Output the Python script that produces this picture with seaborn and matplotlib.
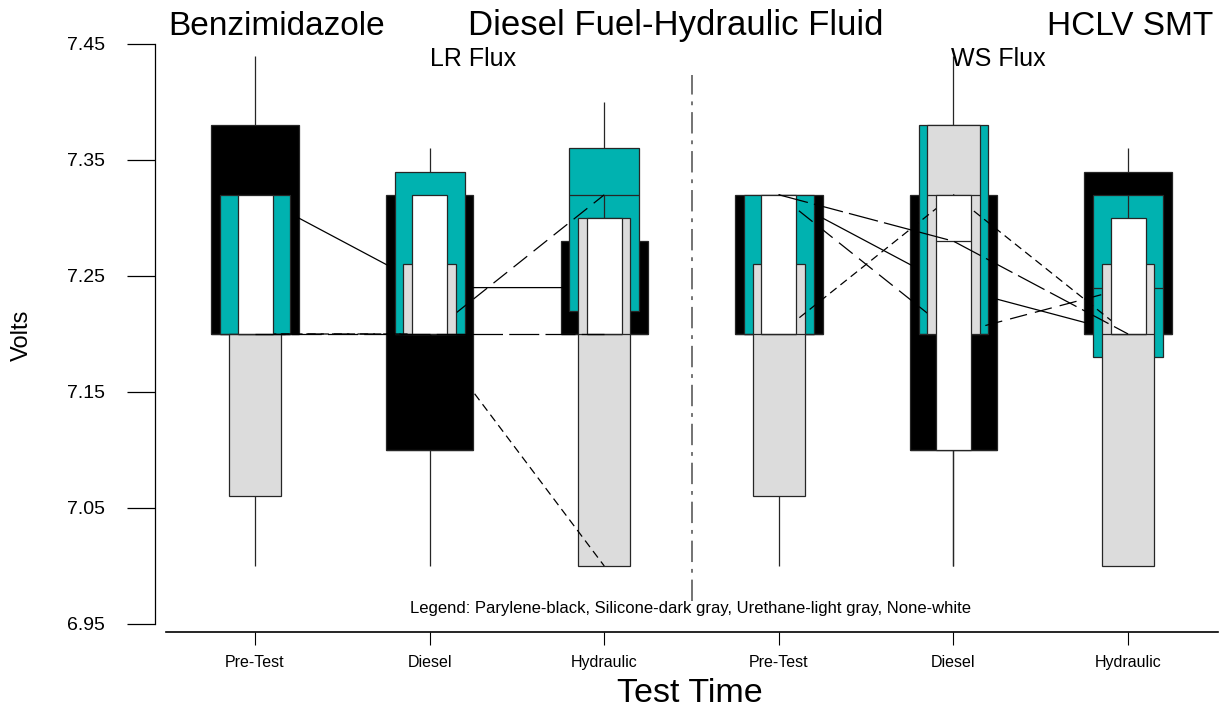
import numpy as np
import pandas as pd
import seaborn as sns
import matplotlib.pyplot as plt

# x positions: two flux groups, three test times each
positions = ["LR Pre-Test", "LR Diesel", "LR Hydraulic", "WS Pre-Test", "WS Diesel", "WS Hydraulic"]
test_times = ["Pre-Test", "Diesel", "Hydraulic", "Pre-Test", "Diesel", "Hydraulic"]
flux = ["LR", "LR", "LR", "WS", "WS", "WS"]

# five number summaries (min, q1, median, q3, max) per position
parylene = [
    [7.20, 7.20, 7.20, 7.38, 7.44],
    [7.00, 7.10, 7.10, 7.32, 7.32],
    [7.20, 7.20, 7.20, 7.28, 7.28],
    [7.20, 7.20, 7.20, 7.32, 7.32],
    [7.00, 7.10, 7.10, 7.32, 7.32],
    [7.20, 7.20, 7.20, 7.34, 7.36],
]
silicone = [
    [7.20, 7.20, 7.20, 7.32, 7.32],
    [7.20, 7.20, 7.20, 7.34, 7.36],
    [7.22, 7.22, 7.32, 7.36, 7.40],
    [7.20, 7.20, 7.20, 7.32, 7.32],
    [7.20, 7.20, 7.20, 7.38, 7.44],
    [7.18, 7.18, 7.24, 7.32, 7.32],
]
urethane = [
    [7.00, 7.06, 7.20, 7.20, 7.20],
    [7.20, 7.20, 7.20, 7.26, 7.26],
    [7.00, 7.00, 7.20, 7.30, 7.30],
    [7.00, 7.06, 7.20, 7.26, 7.26],
    [7.20, 7.20, 7.32, 7.38, 7.38],
    [7.00, 7.00, 7.20, 7.26, 7.26],
]
no_coat = [
    [7.20, 7.20, 7.20, 7.32, 7.32],
    [7.20, 7.20, 7.20, 7.32, 7.32],
    [7.20, 7.20, 7.20, 7.30, 7.32],
    [7.20, 7.20, 7.20, 7.32, 7.32],
    [7.00, 7.10, 7.28, 7.32, 7.32],
    [7.20, 7.20, 7.20, 7.30, 7.32],
]

# connecting lines across test time, one per coating
parylene_line = [7.32, 7.24, 7.24, 7.32, 7.24, 7.20]
silicone_line = [7.20, 7.20, 7.32, 7.32, 7.20, 7.24]
urethane_line = [7.20, 7.20, 7.00, 7.20, 7.32, 7.20]
no_coat_line = [7.20, 7.20, 7.20, 7.32, 7.28, 7.20]

coatings = ["Parylene", "Silicone", "Urethane", "None"]
summaries = {"Parylene": parylene, "Silicone": silicone, "Urethane": urethane, "None": no_coat}
lines = {"Parylene": parylene_line, "Silicone": silicone_line, "Urethane": urethane_line, "None": no_coat_line}

# styles
box_colors = {"Parylene": "#000000", "Silicone": "#00b2b0", "Urethane": "#dcdcdc", "None": "#ffffff"}
box_widths = {"Parylene": 0.5, "Silicone": 0.4, "Urethane": 0.3, "None": 0.2}
line_styles = {"Parylene": "-", "Silicone": (0, (14, 6.5)), "Urethane": (0, (6.5, 4)), "None": (0, (24, 5))}

sns.set_style("ticks")
plt.rcParams["font.family"] = ["Liberation Sans", "DejaVu Sans"]
plt.rcParams["text.color"] = "black"

fig = plt.figure(figsize=(12.24, 7.14), dpi=100)
ax = fig.add_axes([166 / 1224, 1 - 624 / 714, 1052 / 1224, 580 / 714])

for i, name in enumerate(coatings):
    df = pd.DataFrame({"pos": np.repeat(positions, 5), "volts": np.ravel(summaries[name])})
    n_p, n_l = len(ax.patches), len(ax.lines)
    sns.boxplot(data=df, x="pos", y="volts", order=positions, width=box_widths[name],
                color=box_colors[name], saturation=1, linecolor="#262626", linewidth=0.9,
                whis=(0, 100), showcaps=False, showfliers=False, ax=ax)
    for a in list(ax.patches)[n_p:] + list(ax.lines)[n_l:]:
        a.set_zorder(2 + 2 * i)

    ld = pd.DataFrame({"x": range(len(positions)), "v": lines[name], "grp": flux})
    n_l = len(ax.lines)
    sns.lineplot(data=ld, x="x", y="v", units="grp", estimator=None, color="black",
                 lw=0.9, ax=ax)
    for ln in list(ax.lines)[n_l:]:
        ln.set_linestyle(line_styles[name])
        ln.set_zorder(3 + 2 * i)

# separator between the two flux groups
ax.plot([2.5, 2.5], [6.97, 7.423], color="#4d4d4d", lw=1.1,
        linestyle=(0, (14, 4.5, 2.5, 4.5)), zorder=1)

ax.set_xlim(-0.51, 5.515)
ax.set_ylim(6.95, 7.45)
ax.set_xticks(range(len(positions)))
ax.set_xticklabels(test_times)
yt = [6.95, 7.05, 7.15, 7.25, 7.35, 7.45]
ax.set_yticks(yt)
ax.set_yticklabels([f"{v:.2f}" for v in yt])
ax.set_xlabel("")
ax.set_ylabel("")
ax.grid(False)

sns.despine(ax=ax)
ax.spines["left"].set_position(("outward", 8))
ax.spines["left"].set_bounds(6.95, 7.45)
ax.spines["left"].set_linewidth(0.9)
ax.spines["left"].set_color("black")
ax.spines["bottom"].set_position(("outward", 5.8))
ax.spines["bottom"].set_linewidth(1.2)
ax.spines["bottom"].set_color("black")
ax.tick_params(axis="y", length=20, width=0.9, pad=16, labelsize=14, colors="black")
ax.tick_params(axis="x", length=9.4, width=0.8, pad=7, labelsize=11.5, colors="black")

fig.text(168 / 1224, 1 - 35 / 714, "Benzimidazole", fontsize=24, ha="left", va="baseline")
fig.text(676 / 1224, 1 - 35 / 714, "Diesel Fuel-Hydraulic Fluid", fontsize=25, ha="center", va="baseline")
fig.text(1213 / 1224, 1 - 35 / 714, "HCLV SMT", fontsize=24, ha="right", va="baseline")
fig.text(473 / 1224, 1 - 66 / 714, "LR Flux", fontsize=18, ha="center", va="baseline")
fig.text(998 / 1224, 1 - 66 / 714, "WS Flux", fontsize=18, ha="center", va="baseline")
fig.text(690 / 1224, 1 - 609 / 714,
         "Legend: Parylene-black, Silicone-dark gray, Urethane-light gray, None-white",
         fontsize=12, ha="center", va="center")
fig.text(22 / 1224, 1 - 335 / 714, "Volts", fontsize=17, rotation=90, ha="center", va="center")
fig.text(690 / 1224, 1 - 693 / 714, "Test Time", fontsize=24.5, ha="center", va="center")

fig.savefig("out.png", dpi=100)
